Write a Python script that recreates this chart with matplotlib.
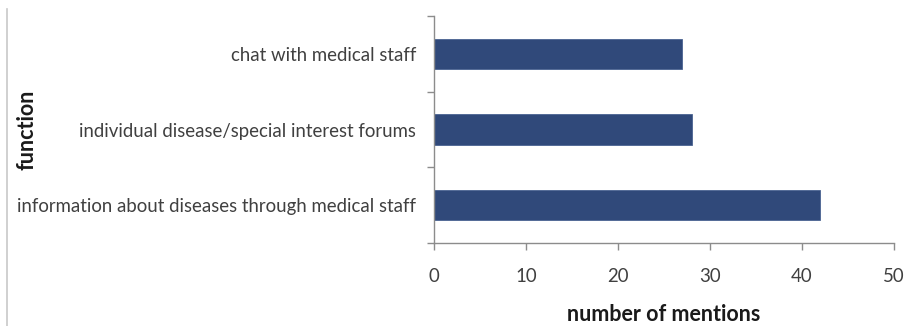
import matplotlib.pyplot as plt
import numpy as np
from matplotlib.lines import Line2D
from matplotlib.ticker import FixedLocator, NullFormatter

plt.rcParams['font.family'] = ['Lato', 'DejaVu Sans']

functions = ['information about diseases through medical staff',
             'individual disease/special interest forums',
             'chat with medical staff']
mentions = [42, 28, 27]
x_ticks = [0, 10, 20, 30, 40, 50]

bar_color = '#30497A'
axis_color = '#8C8C8C'
text_color = '#404040'

fig = plt.figure(figsize=(9.06, 3.26), dpi=100)
ax = fig.add_axes([434/906, 1-243/326, 460/906, 227/326])

y = np.arange(len(functions))
ax.barh(y, mentions, height=0.4, color=bar_color, edgecolor='#4A6391', linewidth=0.6)

ax.set_xlim(0, 50)
ax.set_ylim(-0.5, len(functions)-0.5)
ax.set_xticks(x_ticks)
ax.set_xticklabels([str(t) for t in x_ticks])

# category labels centred on the bars, tick marks between the categories
ax.set_yticks(y)
ax.set_yticklabels(functions)
ax.yaxis.set_minor_locator(FixedLocator(np.arange(-0.5, len(functions), 1)))
ax.yaxis.set_minor_formatter(NullFormatter())
ax.tick_params(axis='y', which='major', length=0, pad=13, labelsize=13.4, labelcolor=text_color)
ax.tick_params(axis='y', which='minor', length=5, width=1, color=axis_color)
ax.tick_params(axis='x', length=5, width=1, color=axis_color, pad=13, labelsize=13.4, labelcolor=text_color)

for side in ['top', 'right']:
    ax.spines[side].set_visible(False)
for side in ['left', 'bottom']:
    ax.spines[side].set_color(axis_color)
    ax.spines[side].set_linewidth(1)

ax.set_xlabel('number of mentions', fontsize=15.5, fontweight='bold', color='#1A1A1A', labelpad=14)
ax.set_ylabel('function', fontsize=15.5, fontweight='bold', color='#1A1A1A')
ax.yaxis.set_label_coords(-0.861, 0.5)

# thin frame line on the left edge
fig.add_artist(Line2D([7/906, 7/906], [0, 1-9/326], transform=fig.transFigure,
                      color='#C8C8C8', linewidth=1.2))

fig.savefig('out.png', dpi=100)
